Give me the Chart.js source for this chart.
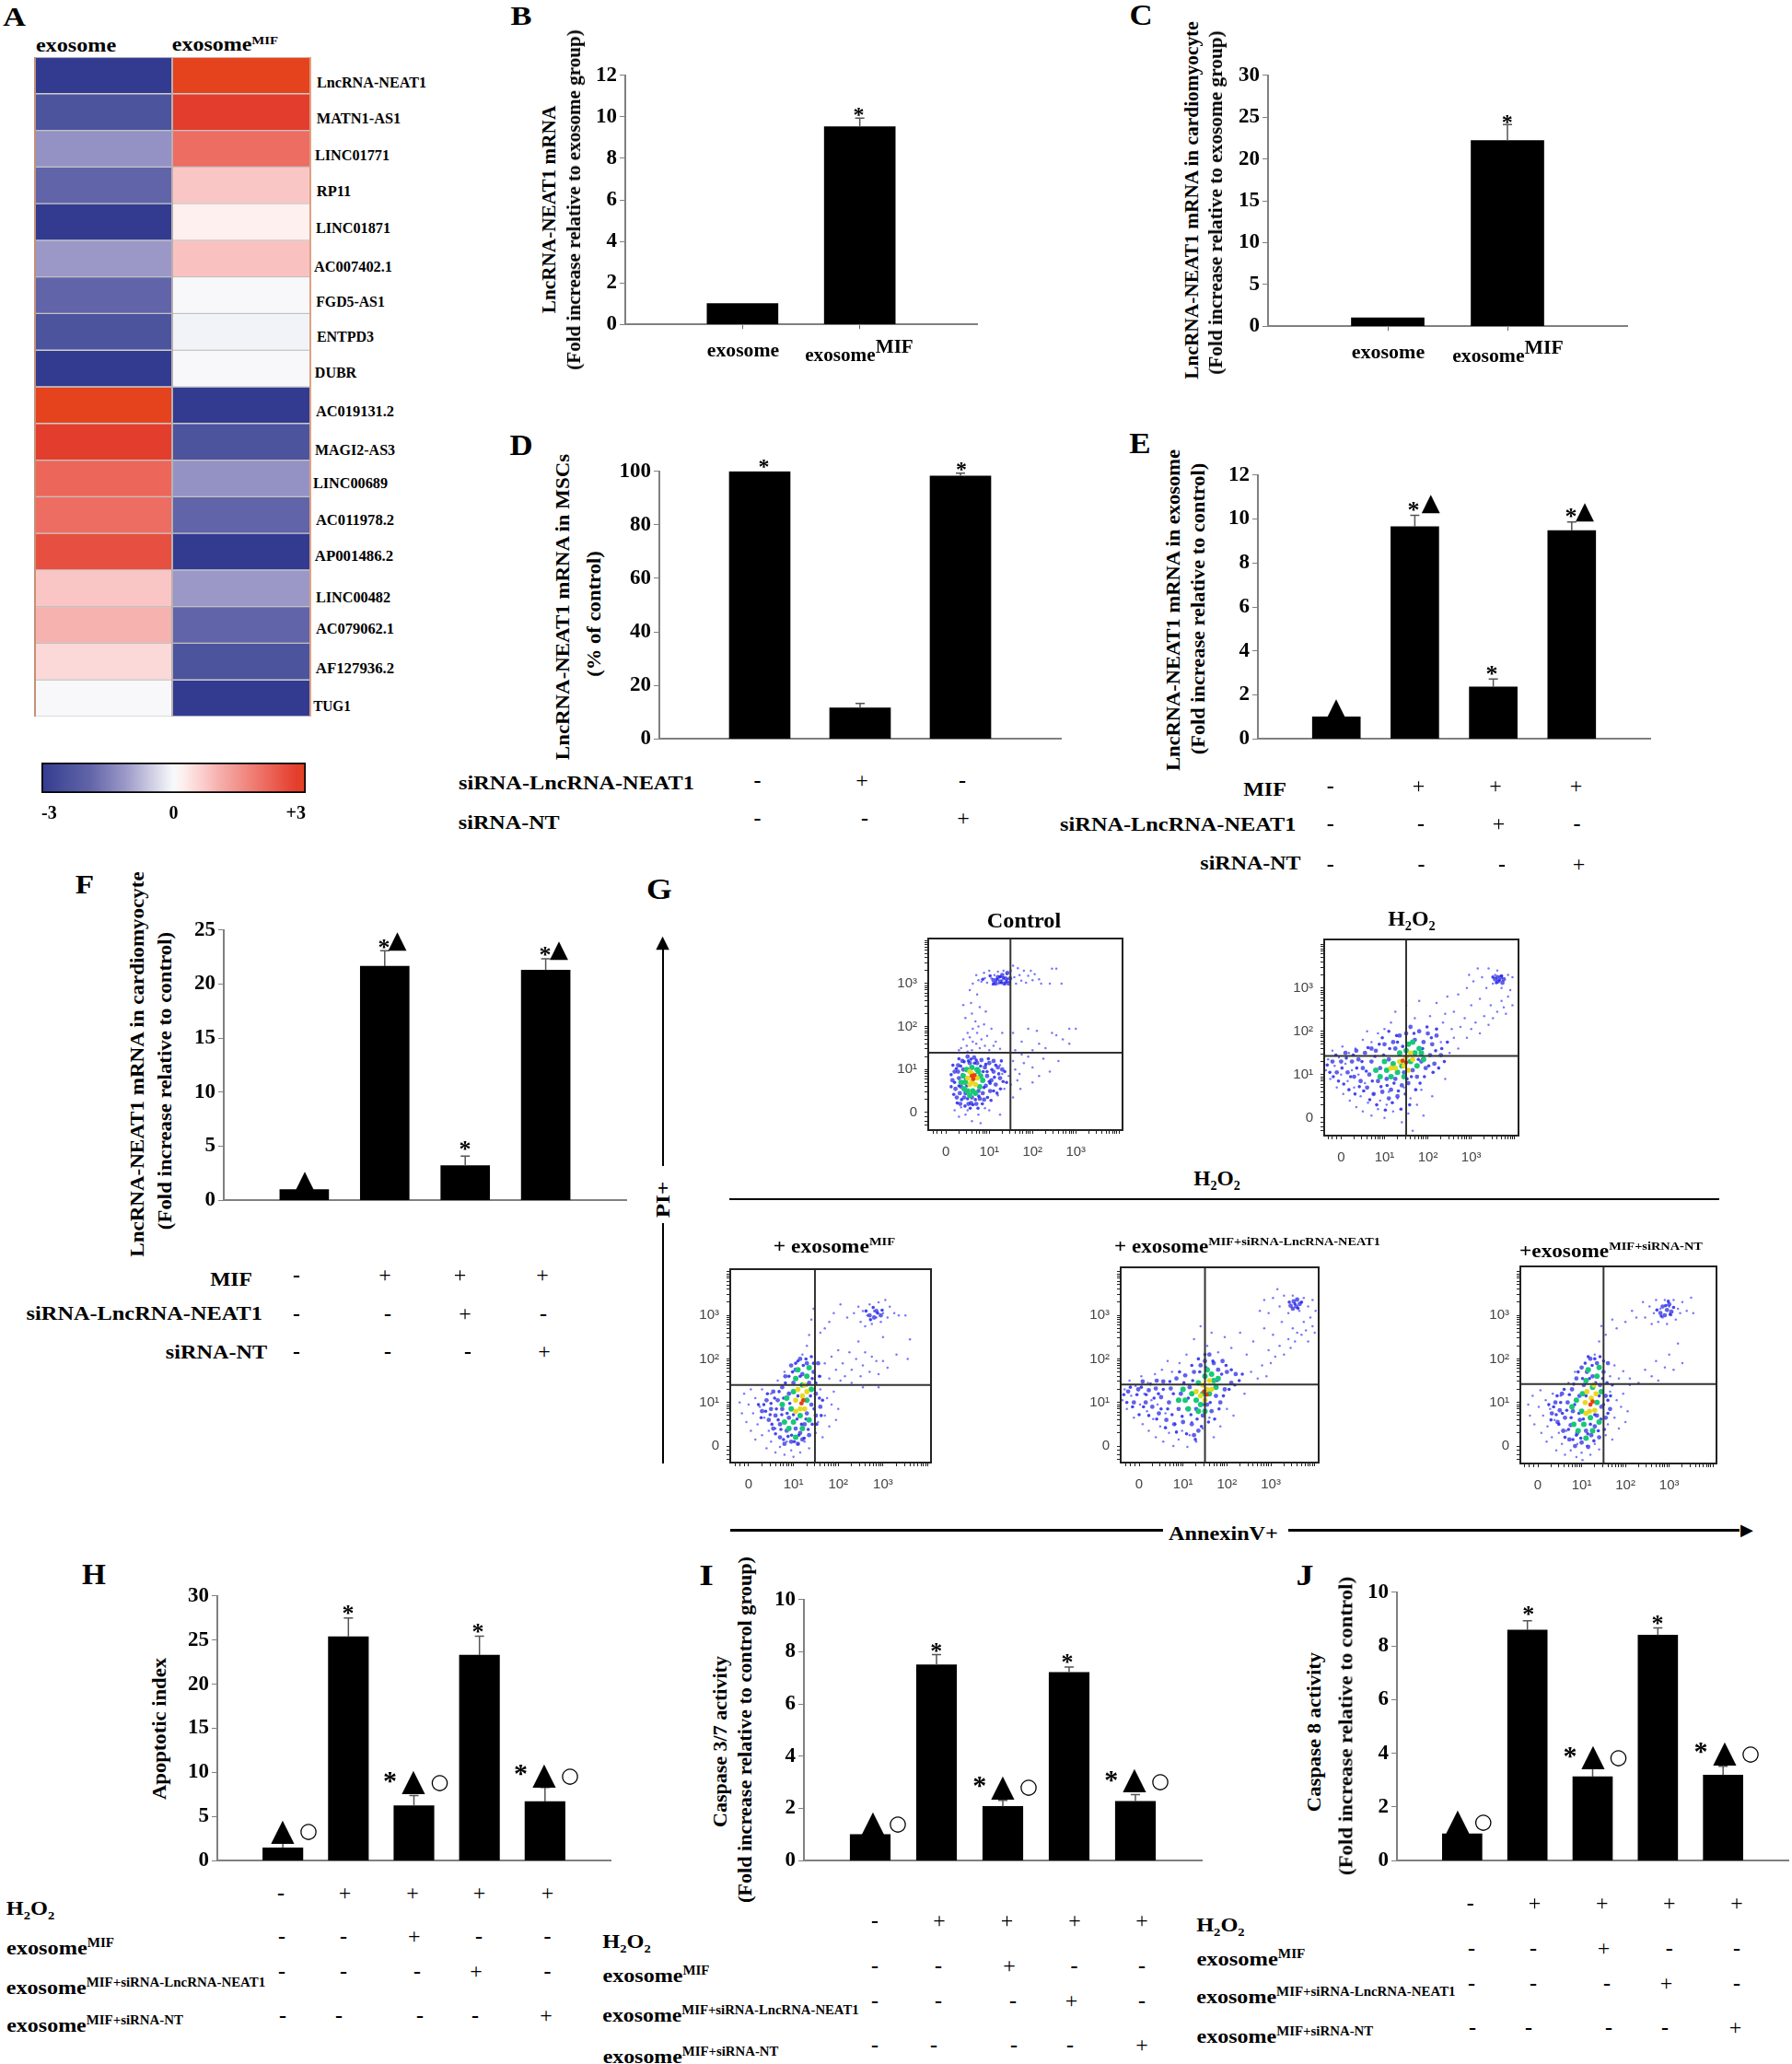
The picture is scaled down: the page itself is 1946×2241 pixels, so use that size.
<!DOCTYPE html>
<html><head><meta charset="utf-8">
<style>
html,body{margin:0;padding:0;background:#fff}
#page{position:relative;width:1946px;height:2241px;overflow:hidden;background:#fff}
canvas{position:absolute}
.t{position:absolute;left:0;top:0;white-space:nowrap;line-height:1;color:#000;font-family:"Liberation Serif",serif;font-weight:bold;transform-origin:0 0}
.d{position:absolute;background:#000}
</style>
<script src="https://cdn.jsdelivr.net/npm/chart.js@4"></script>
</head><body><div id="page"></div>
<script>
// ---------- DATA ----------
const heatGenes=['LncRNA-NEAT1','MATN1-AS1','LINC01771','RP11','LINC01871','AC007402.1','FGD5-AS1','ENTPD3','DUBR','AC019131.2','MAGI2-AS3','LINC00689','AC011978.2','AP001486.2','LINC00482','AC079062.1','AF127936.2','TUG1'];
const heatExosome=[-3,-2.4,-1.2,-1.9,-3,-1.1,-1.9,-2.4,-3,3,2.8,2.15,2.05,2.5,.75,1,.5,.02];
const heatExosomeMIF=[3,2.8,2.05,.75,.2,.8,.02,-.08,.03,-3,-2.4,-1.2,-1.9,-3,-1.1,-1.9,-2.4,-3];
const colorStops=[[-3,'#323b8f'],[-2.4,'#4c549d'],[-1.9,'#6164a8'],[-1.2,'#9492c4'],[-1.1,'#9b98c7'],[-.03,'#f6f7fa'],[.03,'#f8f8fa'],[.2,'#fdf0ee'],[.5,'#fbd9d8'],[.75,'#fac6c5'],[1,'#f6b2af'],[2.05,'#ed6d62'],[2.5,'#e75040'],[2.8,'#e33e2d'],[3,'#e4431e']];
const colorbarTicks=[-3,0,3];

const bLabels=['exosome','exosomeMIF'], bValues=[1,9.52], bErr=[null,9.94];
const cLabels=['exosome','exosomeMIF'], cValues=[1,22.2], cErr=[null,24.1];
const dLabels=['a','b','c'], dValues=[100,11.6,98.3], dErr=[null,13.2,99.3];
const eLabels=['a','b','c','d'], eValues=[1,9.65,2.36,9.47], eErr=[null,10.17,2.72,9.87];
const fLabels=['a','b','c','d'], fValues=[1,21.65,3.2,21.3], fErr=[null,23.08,4.08,22.35];
const hLabels=['a','b','c','d','e'], hValues=[1.46,25.37,6.23,23.3,6.7], hErr=[2,27.5,7.39,25.45,8.3];
const iLabels=['a','b','c','d','e'], iValues=[1,7.5,2.08,7.21,2.27], iErr=[null,7.89,2.31,7.42,2.53];
const jLabels=['a','b','c','d','e'], jValues=[1,8.59,3.13,8.4,3.19], jErr=[null,8.94,3.44,8.67,3.52];

const dRows=[['-','+','-'],['-','-','+']];
const efRows=[['-','+','+','+'],['-','-','+','-'],['-','-','-','+']];
const hijRows=[['-','+','+','+','+'],['-','-','+','-','-'],['-','-','-','+','-'],['-','-','-','-','+']];

// flow cytometry dots, in decades
const ctrlSparse=[[.62,3],[.7,3.2],[.75,3.08],[.82,3.05],[.88,3.25],[.9,3.13],[.95,3.02],[1,3.3],[1.05,3.12],[1.08,2.98],[1.12,3.2],[1.16,3.06],[1.2,3.28],[1.22,3],[1.27,3.15],[1.3,3.08],[1.33,3.3],[1.36,3],[1.4,3.22],[1.42,3.1],[1.47,3.05],[1.5,3.3],[1.55,3.42],[1.58,3.15],[1.62,3],[1.66,3.36],[1.7,3.2],[1.74,3.07],[1.8,3.3],[1.85,3.02],[1.9,3.18],[1.96,3.3],[2,3.08],[2.05,3.22],[2.15,3.1],[2.2,3],[2.4,3],[2.45,3.35],[2.55,3.35],[2.67,3],[.55,2.85],[.72,2.75],[.4,2.5],[.58,2.55],[.78,2.45],[.92,2.35],[.6,2.3],[.88,2.05],[.45,2.2],[.68,2.12],[.75,2],[.5,1.85],[.62,1.95],[.72,1.85],[.4,1.7],[.55,1.75],[.82,1.7],[.95,1.78],[1.05,1.95],[1.15,1.65],[1.3,1.85],[.35,1.5],[.48,1.55],[.6,1.45],[.7,1.6],[.78,1.5],[.9,1.55],[1,1.45],[1.1,1.55],[1.25,1.48],[.3,1.45],[.5,1.42],[.62,1.65],[1.55,1.85],[1.75,1.65],[1.9,1.95],[2.1,1.9],[2.15,1.6],[2.45,1.85],[2.55,1.8],[2.85,1.95],[3,1.95],[2.7,1.7],[2.85,1.6],[2.3,1.5],[2,1.45],[1.75,1.35],[1.6,1.45],[1.55,1.2],[1.6,1],[1.7,.9],[1.8,1.15],[1.9,1.3],[1.65,.75],[1.72,.55],[2,.7],[2.15,.85],[2,1.05],[2.25,1.25],[2.6,1.2],[2.4,.95],[1.5,.65],[1.55,.35],[1.45,.85],[1.3,.9],[1.25,1.1],[1.35,.55],[1.2,.4],[.3,-.1],[.45,-.05],[.6,-.2],[.8,-.25],[.75,-.05],[.5,.05],[.9,.1],[1,.05],[.2,.05],[.35,.12],[1.25,-.05]];
const ctrlExtra=[[.85,3.1],[1.02,3.18],[1.18,3.1],[1.28,3.02],[1.33,3.13],[1.4,3.05],[1.25,3.16],[1.1,3],[.12,.6],[.12,.88],[.18,.42],[.2,.7],[.24,1.02],[.26,.22],[.3,.62],[.34,1.08],[.36,.3],[.38,.88],[.42,1.18],[.44,.15],[.48,.62],[.52,1.2],[.5,.32],[.56,.1],[.58,1.24],[.62,.18],[.66,1.15],[.68,.3],[.7,1.22],[.74,.1],[.76,.38],[.8,1.08],[.84,.2],[.86,.95],[.88,.58],[.92,1.12],[.96,.35],[.98,1.25],[1.02,.68],[1.04,.28],[1.06,1],[1.1,.5],[1.12,.82],[1.15,1.1],[1.18,.45],[1.22,.9],[1.26,.55],[1.28,1.2],[1.32,.72],[1.36,.95],[1.4,.7],[.95,.95],[1,.72],[.3,1.25],[.16,1.1]];
const ctrlDense=[[1.15,3],[1.2,3.15],[1.25,3.05],[1.3,3.2],[1.35,3],[1.38,3.12],[1.42,3.25],[1.45,3],[1.1,3.08],[1.48,3.12],[.15,.75],[.2,.95],[.22,.55],[.25,.35],[.28,1.1],[.3,.8],[.33,.2],[.35,.6],[.38,1.2],[.4,1],[.42,.35],[.46,.75],[.5,1.3],[.52,.2],[.55,1.15],[.6,.35],[.65,1.28],[.7,.2],[.72,1.15],[.78,.32],[.82,1.22],[.85,.45],[.9,1.05],[.92,.62],[.95,.85],[1,1.15],[1.02,.5],[1.05,.75],[1.1,.95],[1.15,.65],[1.2,1.05],[1.25,.8],[.75,.5],[.32,.45],[.28,.95],[.45,.45],[.88,.3],[.58,.22],[1.1,1.2],[1.3,1]];
const ctrlMid=[[.35,.7],[.4,.85],[.42,.55],[.48,1],[.5,.5],[.55,.4],[.6,1.05],[.68,.45],[.72,1],[.78,.6],[.8,.85],[.62,.5],[.45,.7],[.85,.75],[.75,.95]];
const ctrlHot=[[.5,.8],[.55,.65],[.6,.9],[.68,.65],[.72,.8],[.6,.72],[.55,.95]];
const ctrlCore=[[.6,.85],[.63,.78],[.66,.87]];

const h2o2Sparse=[[-.35,1.1],[-.3,1.35],[-.25,.9],[-.2,1.55],[-.15,1.2],[-.1,.7],[-.05,1.4],[0,1],[.03,1.65],[.05,.55],[.1,1.25],[.15,.85],[.18,1.5],[.2,.4],[.25,1.1],[.3,.7],[.33,1.6],[.35,.25],[.4,1],[.45,.5],[.5,1.8],[.5,.15],[.55,.8],[.6,2],[.62,.35],[.7,1.75],[.7,.05],[.75,.55],[.85,.2],[.85,1.95],[.9,.4],[1,2.05],[1,0],[1.05,.3],[1.1,.6],[1.15,2.2],[1.2,.15],[1.25,2.45],[1.3,.45],[1.4,-.1],[1.45,.7],[1.5,2.6],[1.55,.1],[1.6,.45],[1.65,-.3],[1.7,2.3],[1.75,.3],[1.8,2.7],[1.85,.65],[1.9,.05],[2.05,2.35],[2.1,.5],[2.2,2.65],[2.3,1.75],[2.35,2.2],[2.4,.9],[2.45,2.8],[2.5,1.5],[2.55,2.05],[2.6,1.85],[2.7,1.6],[2.75,2.1],[2.85,2.3],[2.9,1.85],[3,2.6],[3,2.05],[3.1,2.2],[3.2,2.75],[3.2,1.95],[3.3,2.35],[3.35,3],[3.4,2.15],[3.45,2.6],[3.5,2.3],[3.55,3.3],[3.6,2.45],[3.7,2.7],[3.75,2.55],[3.8,2.4],[3.85,2.8],[3.9,2.95],[3.95,2.6],[2.9,3],[2.95,3.3],[3.05,3.15],[3.15,3.45],[3.25,3.25],[3.4,3.45],[3.5,3.1],[3.6,3.4],[3.7,3],[3.85,3.3],[3.95,3.25],[2.6,2.45],[2.7,2.85],[2.4,2.4]];
const h2o2Extra=[[3.5,3.25],[3.58,3.12],[3.65,3.18],[3.7,3.28],[-.32,1.22],[-.26,1.05],[-.18,.95],[-.12,1.45],[-.06,.85],[.02,1.15],[.06,.78],[.12,1.38],[.18,.65],[.22,.95],[.28,1.45],[.32,.55],[.36,1.15],[.42,.72],[.48,1.3],[.52,.62],[.58,1.08],[.62,1.62],[.66,.42],[.72,.85],[.78,1.42],[.82,.3],[.88,1.7],[.92,.72],[.98,1.45],[1.02,.18],[1.06,.75],[1.12,1.6],[1.18,.35],[1.22,.8],[1.28,1.9],[1.32,.62],[1.38,.2],[1.42,1.65],[1.48,.55],[1.52,.9],[1.58,.3],[1.62,.95],[1.68,1.95],[1.72,.65],[1.78,1.35],[1.82,.8],[1.88,1.6],[1.92,.95],[1.98,2.1],[2.02,1.2],[2.08,1.85],[2.12,1.05],[2.18,1.55],[2.25,1.15],[2.32,1.6],[2.38,1.3],[2.45,1.75],[1.3,1.75],[1.1,2.0],[.95,1.85],[2.2,2.05]];
const h2o2Dense=[[3.55,3.2],[3.62,3.15],[3.68,3.25],[3.72,3.12],[3.6,3.25],[3.75,3.2],[-.2,1.3],[-.1,1.05],[0,1.3],[.1,1.5],[.15,1.05],[.25,1.3],[.3,.95],[.4,1.35],[.45,.85],[.5,1.15],[.55,1.5],[.6,.7],[.65,1],[.7,1.3],[.75,.55],[.8,1.55],[.85,.85],[.9,1.15],[.95,.6],[1,1.7],[1.05,.9],[1.1,1.35],[1.15,.65],[1.2,1.75],[1.25,.9],[1.3,.5],[1.35,1.9],[1.4,.75],[1.45,1.05],[1.5,1.95],[1.55,.8],[1.6,2.1],[1.65,1.1],[1.7,1.8],[1.75,.95],[1.8,2],[1.85,1.3],[1.9,1.75],[1.95,1.15],[2,1.95],[2.05,1.45],[2.1,1.7],[2.15,1.25],[2.2,1.9],[2.3,1.45],[.35,1.55],[.7,1.6],[1.25,1.6],[1.1,.45]];
const h2o2Mid=[[.8,1.1],[.9,.95],[1,1.3],[1.05,1.1],[1.15,.95],[1.2,1.25],[1.3,1.05],[1.35,1.5],[1.4,1.2],[1.45,.95],[1.5,1.55],[1.55,1.7],[1.6,1.3],[1.65,1.75],[1.7,1.5],[1.75,1.2],[1.8,1.6],[1.85,1.5],[1.9,1.35]];
const h2o2Hot=[[1.15,1.15],[1.25,1.15],[1.35,1.3],[1.45,1.2],[1.5,1.4],[1.6,1.5],[1.65,1.35],[1.55,1.1]];
const h2o2Core=[[1.42,1.32],[1.5,1.28]];

const mifSparse=[[-.2,1],[-.15,.75],[-.1,1.2],[-.05,.55],[0,.95],[.05,1.3],[.05,.35],[.1,.75],[.15,1.1],[.15,.15],[.2,.5],[.25,.9],[.3,.25],[.3,1.3],[.35,.65],[.4,-.05],[.45,.35],[.5,1.2],[.5,.1],[.6,-.15],[.6,.4],[.65,1.5],[.7,-.02],[.8,1.7],[.8,-.2],[.85,.1],[.95,-.1],[1,-.25],[1.1,.05],[1.15,-.15],[1.25,.1],[1.35,-.05],[1.5,.3],[1.55,.55],[1.65,.2],[1.7,.7],[1.8,.45],[1.85,.95],[1.95,.6],[2,.85],[1.75,1.1],[1.6,1.3],[1.9,1.25],[2.05,1.5],[2.3,1.45],[2.55,1.35],[2.9,1.35],[1.6,1.6],[1.7,1.9],[1.8,1.55],[1.85,2.05],[1.95,1.75],[2,2.2],[2.1,1.9],[2.15,1.6],[2.25,2.15],[2.3,1.75],[2.4,2],[2.5,1.6],[2.55,1.85],[2.6,2.15],[2.7,1.7],[2.75,2.05],[2.85,1.95],[2.9,1.65],[3,1.95],[3.1,1.8],[3.3,2.1],[3.55,2],[3.6,2.45],[3,2.5],[2.45,2.4],[1.2,2.1],[1.3,2.3],[1.35,2.55],[1.4,2.9],[1.45,3.15],[1.6,2.6],[1.7,2.7],[1.8,2.85],[1.9,3.05],[2.05,3.25],[2.2,2.95],[2.35,3.05],[2.45,3.2],[2.5,2.85],[2.55,3.1],[2.6,2.75],[2.65,3],[2.7,3.25],[2.75,2.8],[2.8,3.1],[2.85,2.95],[2.9,3.3],[2.95,2.85],[3,3.05],[3.05,3.35],[3.1,2.95],[3.15,3.2],[3.25,3.05],[3.35,3],[3.5,3]];
const mifExtra=[[2.62,3.1],[2.72,2.9],[2.78,3.18],[2.88,3.05],[2.98,3.12],[.22,.95],[.28,.65],[.34,.95],[.38,.8],[.42,1.2],[.48,.72],[.5,.98],[.52,.5],[.58,1.1],[.6,.28],[.62,.85],[.66,.6],[.68,1.25],[.72,.38],[.74,.72],[.78,.15],[.78,1.1],[.82,1.45],[.86,.75],[.88,.22],[.9,1.6],[.92,.98],[.96,.25],[.98,1.7],[1,.72],[1.02,.1],[1.05,1.9],[1.08,.62],[1.1,1.15],[1.12,.25],[1.15,1.6],[1.18,.5],[1.22,1.85],[1.24,.18],[1.28,.62],[1.3,1.4],[1.33,.38],[1.38,1.15],[1.42,.5],[1.42,1.55],[1.46,.85],[1.5,1.45],[1.52,.5],[1.58,1.1],[1.58,1.6],[1.62,.7],[1.65,1.05],[1.28,2.0],[1.4,2.05],[1.45,1.9],[1.1,1.95]];
const mifDense=[[2.7,3],[2.8,2.95],[2.85,3.1],[2.95,3],[.3,.8],[.4,1.05],[.45,.6],[.5,.85],[.55,1.25],[.55,.4],[.6,.7],[.65,1.05],[.7,.2],[.7,.5],[.75,1.35],[.75,.85],[.8,.05],[.82,1.6],[.85,.35],[.9,1.2],[.9,.65],[.95,1.85],[.95,.1],[1,1.45],[1.05,.4],[1.05,1.75],[1.1,.05],[1.15,2],[1.15,.3],[1.2,1.65],[1.25,.5],[1.3,1.9],[1.3,.75],[1.35,.25],[1.35,1.45],[1.4,.95],[1.45,1.7],[1.5,.7],[1.5,1.2],[1.55,1.9],[1.6,.9],[1.2,.15]];
const mifMid=[[.75,.95],[.8,.55],[.85,1.1],[.9,.4],[.95,.85],[1,1.25],[1,.55],[1.05,1.55],[1.05,.2],[1.1,1.75],[1.15,.7],[1.2,1.4],[1.2,.4],[1.3,1.6],[1.3,1.05],[1.35,1.8],[1.35,.6],[1.4,1.3]];
const mifHot=[[1.05,1.05],[1.1,1.3],[1.15,.85],[1.2,1.15],[1.25,1.4],[1.25,.85],[1.3,1.25],[1.05,.8]];
const mifCore=[[1.18,.98],[1.22,1.05]];

const neatSparse=[[-.38,1.05],[-.33,1.3],[-.28,.85],[-.22,1.5],[-.18,1.15],[-.12,.65],[-.08,1.38],[.02,.95],[.05,1.6],[.08,.5],[.12,1.2],[.18,.8],[.2,1.45],[.22,.35],[.28,1.05],[.32,.62],[.36,1.65],[.38,.2],[.42,.95],[.48,.45],[.52,1.75],[.55,.1],[.6,.75],[.65,1.95],[.68,.3],[.75,1.7],[.78,0],[.82,.5],[.9,.15],[.92,1.9],[.98,.35],[1.08,2.1],[1.1,-.02],[1.15,.25],[1.2,.55],[1.25,2.45],[1.3,.1],[1.4,2.75],[1.45,.4],[1.55,2.3],[1.6,.65],[1.65,2.6],[1.7,.2],[1.8,2.15],[1.85,.45],[1.95,2.5],[2,.85],[2.1,2.25],[2.15,.7],[2.3,2.6],[2.4,1.2],[2.45,2.1],[2.55,1.7],[2.6,2.4],[2.7,1.55],[2.8,1.85],[2.85,2.7],[2.9,1.6],[2.95,2.2],[3,1.9],[3.05,2.55],[3.1,2.05],[3.2,2.3],[3.25,2.85],[3.3,2.1],[3.4,2.45],[3.45,2.25],[3.5,2.7],[3.55,2.4],[3.6,2.6],[3.7,2.55],[3.75,2.85],[3.8,2.65],[3.85,2.4],[3.9,2.95],[3.95,2.75],[4,2.6],[2.75,3.1],[2.85,3.35],[2.95,3.05],[3.05,3.4],[3.15,3.6],[3.2,3.2],[3.3,3.45],[3.4,3.05],[3.5,3.45],[3.65,3.1],[3.75,3.4],[3.85,3.2],[3.95,3.35],[4.02,3.1]];
const neatExtra=[[3.42,3.3],[3.55,3.26],[3.62,3.16],[3.7,3.3],[-.35,1.18],[-.28,1.0],[-.2,1.35],[-.15,.9],[-.05,1.18],[0,.72],[.05,1.35],[.1,.9],[.16,1.18],[.22,.7],[.26,1.42],[.34,1.1],[.4,.62],[.44,1.2],[.5,.85],[.55,1.3],[.6,.42],[.65,.85],[.7,1.48],[.75,.72],[.78,1.2],[.85,.32],[.88,1.05],[.92,1.7],[.98,.68],[1.02,1.45],[1.08,.28],[1.12,1.1],[1.18,.72],[1.22,1.5],[1.28,.15],[1.32,.62],[1.38,1.7],[1.42,.45],[1.48,.95],[1.52,1.8],[1.58,.55],[1.62,1.0],[1.68,1.95],[1.72,.62],[1.78,1.5],[1.82,.85],[1.88,1.65],[1.92,1.15],[1.98,1.85],[2.05,1.3],[2.1,1.75],[2.18,1.4],[2.28,1.5],[1.2,1.85],[1.35,2.0],[1.5,2.1],[2.35,1.65]];
const neatDense=[[3.45,3.22],[3.52,3.32],[3.58,3.2],[3.6,3.36],[3.66,3.26],[3.5,3.15],[-.25,1.25],[-.12,1],[-.02,1.3],[.08,1.48],[.15,1],[.22,1.28],[.3,.9],[.38,1.32],[.45,.75],[.5,1.12],[.55,1.48],[.62,.6],[.68,1],[.72,1.32],[.8,.5],[.85,1.55],[.9,.85],[.95,1.2],[1,.55],[1.05,1.62],[1.1,.85],[1.15,1.35],[1.2,.5],[1.25,1.7],[1.3,.85],[1.35,.35],[1.4,1.85],[1.45,.7],[1.5,1.95],[1.55,.95],[1.6,2.1],[1.65,.8],[1.7,1.9],[1.75,1.15],[1.8,1.75],[1.85,1],[1.9,1.95],[1.95,1.3],[2,1.7],[2.1,1.45],[2.2,1.65],[.4,1.5],[1.25,.25]];
const neatMid=[[.9,1.05],[1,1.3],[1.05,1.05],[1.12,.85],[1.2,1.2],[1.3,1.05],[1.35,1.45],[1.4,.95],[1.45,1.2],[1.5,1.6],[1.55,1.75],[1.6,1.2],[1.65,1.65],[1.7,1.5],[1.75,1.35],[1.8,1.55],[1.35,.8],[1.5,.8]];
const neatHot=[[1.3,1.25],[1.4,1.15],[1.45,1.4],[1.55,1.3],[1.6,1.5],[1.65,1.3],[1.5,1.05]];
const neatCore=[[1.48,1.25],[1.54,1.18]];

const ntSparse=[[-.22,.95],[-.18,.7],[-.12,1.15],[-.08,.5],[.02,.9],[.06,1.28],[.08,.3],[.12,.7],[.18,1.05],[.2,.1],[.22,.45],[.28,.85],[.32,.2],[.34,1.2],[.38,.6],[.42,-.1],[.48,.3],[.52,1.15],[.55,.05],[.62,-.2],[.65,.35],[.7,1.45],[.75,-.1],[.85,1.7],[.88,-.25],[.9,.05],[1,-.15],[1.02,-.32],[1.12,0],[1.2,-.2],[1.3,.05],[1.4,-.08],[1.55,.25],[1.6,.5],[1.7,.15],[1.75,.65],[1.85,.4],[1.9,.9],[2,.55],[2.05,.8],[1.8,1.05],[1.65,1.25],[1.95,1.2],[2.1,1.4],[1.65,1.6],[1.75,1.85],[1.85,1.55],[1.95,1.72],[2.1,1.55],[2.3,1.45],[2.45,1.75],[2.6,1.6],[2.7,1.95],[2.75,1.5],[2.9,1.8],[3,2.1],[3.1,1.75],[3.2,2.35],[3.3,1.9],[1.3,2.1],[1.4,2.4],[1.45,2.75],[1.55,2.55],[1.7,2.9],[1.8,2.7],[2,2.85],[2.15,3.1],[2.25,2.95],[2.4,3.3],[2.45,2.95],[2.55,3.2],[2.6,2.8],[2.65,3.05],[2.7,3.35],[2.75,2.85],[2.8,3.15],[2.85,2.95],[2.9,3.35],[2.95,2.8],[3,3.2],[3.05,3],[3.1,3.35],[3.15,2.9],[3.2,3.15],[3.25,3.05],[3.3,3.3],[3.4,3.1],[3.5,3.4],[3.55,3.05]];
const ntExtra=[[2.72,3.12],[2.82,2.98],[2.92,3.22],[3.02,3.02],[3.1,3.18],[2.98,3.32],[.25,.95],[.3,.6],[.36,.9],[.42,.72],[.44,1.15],[.48,.5],[.52,1],[.56,.75],[.6,1.3],[.62,.2],[.66,.82],[.7,.38],[.72,1.18],[.76,.65],[.8,.15],[.82,1.42],[.84,.95],[.88,.25],[.92,1.7],[.94,.75],[.98,.18],[1.02,1.55],[1.04,.62],[1.08,1.9],[1.1,1.15],[1.14,.28],[1.18,1.55],[1.2,.5],[1.24,1.85],[1.28,.12],[1.3,.72],[1.32,1.45],[1.38,.35],[1.4,1.15],[1.44,.62],[1.48,1.55],[1.5,.95],[1.52,.38],[1.58,1.45],[1.6,.75],[1.6,1.05],[1.66,1.15],[1.3,2.0],[1.42,2.05],[1.5,1.95],[1.15,2.05],[1.7,1.4]];
const ntDense=[[2.8,3.05],[2.85,3.2],[2.9,3],[2.95,3.12],[3,3.25],[3.05,3.08],[.32,.75],[.4,1],[.45,.55],[.5,.82],[.55,1.2],[.58,.35],[.62,.65],[.68,1],[.72,.15],[.75,.48],[.78,1.3],[.8,.8],[.85,0],[.88,1.55],[.9,.3],[.95,1.15],[.96,.6],[1,1.8],[1,.08],[1.05,1.4],[1.1,.35],[1.12,1.7],[1.15,-.02],[1.2,2],[1.22,.25],[1.25,1.6],[1.3,.45],[1.35,1.9],[1.35,.7],[1.4,.2],[1.42,1.4],[1.45,.9],[1.5,1.7],[1.55,.65],[1.55,1.15],[1.6,1.9],[1.65,.85]];
const ntMid=[[.78,.9],[.82,.5],[.88,1.05],[.92,.35],[1,.8],[1.02,1.2],[1.05,.5],[1.1,1.5],[1.1,.18],[1.15,1.75],[1.2,.65],[1.25,1.35],[1.25,.35],[1.35,1.6],[1.35,1],[1.4,1.8],[1.4,.55],[1.45,1.25]];
const ntHot=[[1.08,1],[1.12,1.25],[1.18,.8],[1.22,1.1],[1.28,1.4],[1.3,.82],[1.33,1.2],[1.1,.75]];
const ntCore=[[1.2,.95],[1.25,1.02]];

const gates={ctrl:[1.49,1.39],h2o2:[1.5,1.43],mif:[1.48,1.4],neat:[1.5,1.41],nt:[1.5,1.42]};

// ---------- HELPERS ----------
const page=document.getElementById('page');
const SERIF='"Liberation Serif",serif';
const sup=(s,e=.62,top=-.6)=>`<span style="font-size:${e}em;position:relative;top:${top}em">${s}</span>`;
const sub=s=>`<span style="font-size:.6em;position:relative;top:.35em">${s}</span>`;
const H2O2=`H${sub('2')}O${sub('2')}`;
function T(html,cx,cy,o={}){
  const e=document.createElement('div');e.className='t';e.innerHTML=html;
  e.style.fontSize=(o.s||22)+'px';
  if(o.font)e.style.fontFamily=o.font;
  if(o.weight)e.style.fontWeight=o.weight;
  if(o.color)e.style.color=o.color;
  page.appendChild(e);
  let sx=1;if(o.w)sx=o.w/e.offsetWidth;
  e.style.transform=`translate(${cx}px,${cy}px) rotate(${o.rot||0}deg) scale(${sx},1) translate(-50%,-50%)`;
  return e;
}
const L=(html,x0,x1,cy,s=22)=>T(html,(x0+x1)/2,cy,{s,w:x1-x0});
const V=(html,x,y0,y1,s=20)=>T(html,x,(y0+y1)/2,{s,w:y1-y0,rot:-90});
const tri=(x,y,s=26)=>T('▲',x,y,{s,font:'"DejaVu Sans"',weight:'normal'});
const circ=(x,y,s=23)=>T('○',x,y,{s,font:'"DejaVu Sans"',weight:'bold'});
const star=(x,y,s=30)=>T('*',x,y+s*.15,{s});
function marks(xs,y,row){row.forEach((m,i)=>T(m,xs[i],y,{s:24,weight:m==='+'?'normal':'bold'}));}
function rect(x,y,w,h,c='#000'){const d=document.createElement('div');d.className='d';d.style.cssText+=`left:${x}px;top:${y}px;width:${w}px;height:${h}px;background:${c}`;page.appendChild(d);return d;}
function cv(l,t,w,h){const c=document.createElement('canvas');c.width=w;c.height=h;c.style.left=l+'px';c.style.top=t+'px';c.style.width=w+'px';c.style.height=h+'px';page.appendChild(c);return c;}
// make the chart's plot area land exactly on the given page rectangle
function place(ch,l,t,r,b){
  let a=ch.chartArea;
  const w=ch.width+((r-l)-(a.right-a.left)),h=ch.height+((b-t)-(a.bottom-a.top));
  ch.resize(Math.round(w),Math.round(h));
  a=ch.chartArea;
  ch.canvas.style.left=(l-a.left)+'px';ch.canvas.style.top=(t-a.top)+'px';
}
function hex(c){return [1,3,5].map(i=>parseInt(c.slice(i,i+2),16));}
function heatColor(v){
  for(let i=1;i<colorStops.length;i++){const[a,ca]=colorStops[i-1],[b,cb]=colorStops[i];
    if(v<=b){const f=(v-a)/(b-a),A=hex(ca),B=hex(cb);return `rgb(${A.map((q,k)=>Math.round(q+(B[k]-q)*f)).join(',')})`;}}
  return colorStops[colorStops.length-1][1];
}
const errPlugin={id:'errs',afterDatasetsDraw(ch,_,o){
  const ctx=ch.ctx,y=ch.scales.y,meta=ch.getDatasetMeta(0);
  ctx.save();ctx.strokeStyle='#555';ctx.lineWidth=1.5;
  (o.tops||[]).forEach((v,i)=>{if(v==null)return;const el=meta.data[i+1],py=y.getPixelForValue(v);
    ctx.beginPath();ctx.moveTo(el.x,el.y);ctx.lineTo(el.x,py);ctx.moveTo(el.x-5,py);ctx.lineTo(el.x+5,py);ctx.stroke();});
  ctx.restore();}};
function barChart(o){
  const LEFT=50,TOP=16,RIGHT=4,BOT=14;
  const w=Math.round(o.right-o.axis+LEFT+RIGHT),h=Math.round(o.base-o.top+TOP+BOT);
  const ch=new Chart(cv(o.axis-LEFT,o.top-TOP,w,h),{type:'bar',plugins:[errPlugin],
    data:{labels:['',...o.labels,''],datasets:[{data:[null,...o.values,null],backgroundColor:'#000',barThickness:o.bar}]},
    options:{responsive:false,maintainAspectRatio:false,animation:false,devicePixelRatio:1,layout:{padding:{top:TOP,right:RIGHT}},
      plugins:{legend:{display:false},tooltip:{enabled:false},errs:{tops:o.err}},
      scales:{
        x:{offset:false,grid:{offset:false,drawOnChartArea:false,drawTicks:!!o.xticks,tickLength:5,tickColor:(c)=>(c.index>0&&c.index<=o.labels.length)?'#666':'transparent'},
           border:{color:'#808080',width:2},ticks:{display:false},afterFit(s){s.height=BOT}},
        y:{min:0,max:o.max,ticks:{stepSize:o.step,color:'#000',padding:3,font:{family:SERIF,weight:'bold',size:o.tick||23}},
           grid:{drawOnChartArea:false,tickLength:6,color:'#808080'},border:{color:'#808080',width:2},afterFit(s){s.width=LEFT}}
      }}});
  place(ch,o.axis,o.top,o.right,o.base);
}
const boxPlugin={id:'box',afterDatasetsDraw(ch){const a=ch.chartArea,c=ch.ctx;c.save();c.strokeStyle='#222';c.lineWidth=2;c.strokeRect(a.left,a.top,a.right-a.left,a.bottom-a.top);c.restore();}};
const minorDec=[0,.3,.48,.6,.7,.78,.85,.9,.95];
const decadeLabels={0:'0',1:'10¹',2:'10²',3:'10³'};
function flow(o){
  const LEFT=50,BOT=40,PAD=14;
  const[l,t,r,b]=o.box;
  const mk=(data,color,rad)=>({data:data.map(p=>({x:p[0],y:p[1]})),backgroundColor:color,pointRadius:rad,pointBorderWidth:0,showLine:false});
  const ticks=(min,max)=>{const a=[];for(let d=0;d<5;d++)minorDec.forEach(m=>{const v=d+m;if(v<=max)a.push({value:v});});[-.1,-.2,-.3].forEach(v=>a.push({value:v}));return a.filter(k=>k.value>=min);};
  const axis=(min,max,isX)=>({type:'linear',min,max,
    afterBuildTicks(s){s.ticks=ticks(min,max)},
    ticks:{autoSkip:false,maxRotation:0,minRotation:0,padding:isX?11:8,color:'#444',font:{family:'"Liberation Sans Narrow","Liberation Sans",sans-serif',size:15},callback:v=>decadeLabels[v]??''},
    grid:{drawOnChartArea:false,tickLength:4,color:'#222'},border:{display:false},
    afterFit(s){if(isX)s.height=BOT;else s.width=LEFT}});
  const c=cv(l-LEFT,t-PAD,Math.round(r-l+LEFT+PAD),Math.round(b-t+PAD+BOT));
  c.style.filter='blur(.45px)';
  const ch=new Chart(c,{type:'scatter',plugins:[boxPlugin],
    data:{datasets:[
      {data:[{x:o.gate[0],y:o.yr[0]},{x:o.gate[0],y:o.yr[1]}],showLine:true,borderColor:'#333',borderWidth:2,pointRadius:0},
      {data:[{x:o.xr[0],y:o.gate[1]},{x:o.xr[1],y:o.gate[1]}],showLine:true,borderColor:'#333',borderWidth:2,pointRadius:0},
      mk(o.core,'#e84010',2.4),mk(o.hot,'#e8d820',2.8),mk(o.mid,'#18c878',3),
      mk(o.extra,'rgba(35,35,235,.85)',1.8),mk(o.dense,'rgba(30,30,225,.7)',2.4),mk(o.sparse,'rgba(85,85,250,.8)',1.25)]},
    options:{responsive:false,maintainAspectRatio:false,animation:false,devicePixelRatio:1,layout:{padding:{top:PAD,right:PAD}},
      plugins:{legend:{display:false},tooltip:{enabled:false}},scales:{x:axis(o.xr[0],o.xr[1],true),y:axis(o.yr[0],o.yr[1],false)}}});
  place(ch,l,t,r,b);
}

// ---------- PANEL A ----------
new Chart(cv(37,62,300,716),{type:'bar',
  data:{labels:heatGenes,datasets:[heatExosome,heatExosomeMIF].map((vals,k)=>({label:k?'exosomeMIF':'exosome',data:vals.map(()=>1),
    backgroundColor:vals.map(heatColor),borderColor:'rgba(110,110,110,.3)',borderWidth:{top:1,bottom:1,left:0,right:0},borderSkipped:false,barPercentage:1,categoryPercentage:1}))},
  options:{indexAxis:'y',responsive:false,maintainAspectRatio:false,animation:false,devicePixelRatio:1,plugins:{legend:{display:false},tooltip:{enabled:false}},
    scales:{x:{stacked:true,min:0,max:2,display:false},y:{stacked:true,display:false}}}});
rect(37,62,2,716,'#c49078');rect(336,62,1.5,716,'#e0a080');rect(186,62,1.5,716,'#b9b0b0');
const geneX=[344,344,342,344,343,341,343,344,342,343,342,340,343,342,343,343,343,340];
const geneY=[89.5,129,169,208,248,290,328,366,405,447,489,525,565,604,649,683,726,767];
const geneW=[119,91,81,37,81,85,75,62,45,85,87,81,85,85,81,85,85,41];
heatGenes.forEach((g,i)=>L(g,geneX[i],geneX[i]+geneW[i],geneY[i],16));
L('exosome',39,126,49,20);L('exosome'+sup('MIF'),187,302,48,20);
L('A',3,28,18,30);
place(new Chart(cv(40,820,300,80),{type:'bar',
  data:{labels:['scale'],datasets:[{data:[[colorbarTicks[0],colorbarTicks[2]]],borderColor:'#000',borderWidth:2,borderSkipped:false,barPercentage:1,categoryPercentage:1,
    backgroundColor(c){const a=c.chart.chartArea;if(!a)return '#000';const g=c.chart.ctx.createLinearGradient(a.left,0,a.right,0);
      colorStops.forEach(([v,col])=>g.addColorStop((v+3)/6,col));return g;}}]},
  options:{indexAxis:'y',responsive:false,maintainAspectRatio:false,animation:false,devicePixelRatio:1,layout:{padding:{top:4,left:4,right:4}},plugins:{legend:{display:false},tooltip:{enabled:false}},
    scales:{y:{display:false},x:{min:-3,max:3,afterBuildTicks(s){s.ticks=colorbarTicks.map(v=>({value:v}))},afterFit(s){s.height=40},
      grid:{display:false},border:{display:false},ticks:{align:'inner',padding:3,color:'#000',autoSkip:false,maxRotation:0,font:{family:SERIF,weight:'bold',size:20},callback:v=>v>0?'+'+v:String(v)}}}}}),45,828,332,861);

// ---------- PANEL B ----------
barChart({axis:678.5,right:1060,top:82,base:352,max:12,step:2,labels:bLabels,values:bValues,err:bErr,bar:77,xticks:true});
T('B',566,17,{s:30,w:23});star(932.5,120,24);
V('LncRNA-NEAT1 mRNA',596,115,340);V('(Fold increase relative to exosome group)',623,32,402);
L('exosome',768,846,380);L('exosome'+sup('MIF',1,-.42),874,992,385,21);
// ---------- PANEL C ----------
barChart({axis:1376.7,right:1767,top:81.7,base:354,max:30,step:5,labels:cLabels,values:cValues,err:cErr,bar:79,xticks:true});
T('C',1239,16,{s:32,w:25});star(1636.7,128,24);
V('LncRNA-NEAT1 mRNA in cardiomyocyte',1294,23,412);V('(Fold increase relative to exosome group)',1320,33,407);
L('exosome',1468,1547,382);L('exosome'+sup('MIF',1,-.42),1577,1698,386,21);
// ---------- PANEL D ----------
barChart({axis:716,right:1152,top:511.7,base:802,max:100,step:20,labels:dLabels,values:dValues,err:dErr,bar:66});
T('D',566,483,{s:32,w:25});star(829.5,502,24);star(1044,505,24);
V('LncRNA-NEAT1 mRNA in MSCs',611,493,825);V('(% of control)',644.5,598,735);
L('siRNA-LncRNA-NEAT1',498,754,850);L('siRNA-NT',498,607.5,893);
marks([822.5,936,1045],847,dRows[0]);marks([822.5,939,1046],888,dRows[1]);
// ---------- PANEL E ----------
barChart({axis:1366,right:1792,top:515.7,base:802,max:12,step:2,labels:eLabels,values:eValues,err:eErr,bar:52});
T('E',1238,481,{s:32,w:23});tri(1451,767);star(1535,550,26);tri(1553.7,545);star(1620,727.7,26);star(1706,557,26);tri(1721,554);
V('LncRNA-NEAT1 mRNA in exosome',1273.7,488,837);V('(Fold increase relative to control)',1301.4,503,819);
L('MIF',1350,1397,857);L('siRNA-LncRNA-NEAT1',1151,1407.5,895);L('siRNA-NT',1303.5,1412.4,936.7);
marks([1444.7,1540.6,1624,1711.6],852.7,efRows[0]);marks([1444.7,1543,1627.6,1712.5],894,efRows[1]);marks([1444.7,1543.5,1631,1714.5],937.7,efRows[2]);
// ---------- PANEL F ----------
barChart({axis:243,right:680,top:1010,base:1303,max:25,step:5,labels:fLabels,values:fValues,err:fErr,bar:53});
T('F',92,960,{s:30,w:20});tri(331,1280);star(417,1025,26);tri(431.6,1020);star(505,1244,26);star(592,1033,26);tri(607,1030);
V('LncRNA-NEAT1 mRNA in cardiomyocyte',149,946,1365);V('(Fold increase relative to control)',179,1012,1335);
L('MIF',228,274,1389);L('siRNA-LncRNA-NEAT1',28.5,285,1426);L('siRNA-NT',180,290,1467.5);
marks([322,418,499.5,589],1383.6,efRows[0]);marks([322,421,505,590],1426,efRows[1]);marks([322,421,508,591],1467,efRows[2]);
// ---------- PANEL G ----------
T('G',716,965,{s:32,w:28});
flow({box:[1008,1019,1219,1227],xr:[-.41,4.08],yr:[-.41,4.05],gate:gates.ctrl,sparse:ctrlSparse,extra:ctrlExtra,dense:ctrlDense,mid:ctrlMid,hot:ctrlHot,core:ctrlCore});
flow({box:[1438,1020,1649,1233],xr:[-.39,4.09],yr:[-.41,4.12],gate:gates.h2o2,sparse:h2o2Sparse,extra:h2o2Extra,dense:h2o2Dense,mid:h2o2Mid,hot:h2o2Hot,core:h2o2Core});
flow({box:[793,1378,1011,1588],xr:[-.41,4.07],yr:[-.38,4.06],gate:gates.mif,sparse:mifSparse,extra:mifExtra,dense:mifDense,mid:mifMid,hot:mifHot,core:mifCore});
flow({box:[1217,1376,1431.5,1588],xr:[-.42,4.09],yr:[-.38,4.1],gate:gates.neat,sparse:neatSparse,extra:neatExtra,dense:neatDense,mid:neatMid,hot:neatHot,core:neatCore});
flow({box:[1651,1375,1864,1589],xr:[-.4,4.08],yr:[-.4,4.12],gate:gates.nt,sparse:ntSparse,extra:ntExtra,dense:ntDense,mid:ntMid,hot:ntHot,core:ntCore});
L('Control',1072,1152,999,23);L(H2O2,1507,1559,997,23);L(H2O2,1296,1347,1279,23);
rect(792,1301,1075,2);
L('+ exosome'+sup('MIF'),840,972,1353,21);
L('+ exosome'+sup('MIF+siRNA-LncRNA-NEAT1'),1210,1499,1353,21);
L('+exosome'+sup('MIF+siRNA-NT'),1650,1849,1358,21);
rect(718.5,1029,2,237);rect(718.5,1328,2,261);
T('▲',719.5,1022,{s:19,font:'"DejaVu Sans"',weight:'normal'});
V('PI+',720,1283,1322,20);
rect(793,1659.5,470,3);rect(1399,1659.5,490,3);
T('▶',1897,1660.5,{s:18,font:'"DejaVu Sans"',weight:'normal'});
L('AnnexinV+',1269,1388,1665,22);
// ---------- PANEL H ----------
barChart({axis:236,right:662.5,top:1733,base:2020.6,max:30,step:5,labels:hLabels,values:hValues,err:hErr,bar:43.5});
T('H',102,1708.6,{s:32,w:26});
tri(307,1986,33);circ(335,1987);star(378,1748,26);star(423.6,1928);tri(449,1932,33);circ(477.6,1934);star(519,1768,26);star(565.5,1920);tri(591,1925,33);circ(619,1927);
V('Apoptotic index',172.7,1800,1954);
const tblLabel=(x0,ws,ys)=>{[H2O2,'exosome'+sup('MIF'),'exosome'+sup('MIF+siRNA-LncRNA-NEAT1'),'exosome'+sup('MIF+siRNA-NT')].forEach((h,i)=>L(h,x0,x0+ws[i],ys[i],22));};
tblLabel(7,[52,117,281,192],[2072,2115,2157.6,2199]);
marks([305,374.5,448,520.6,594.5],2054.6,hijRows[0]);marks([306,373,449.7,520,594.5],2102,hijRows[1]);marks([306,373,453,517,594.5],2140,hijRows[2]);marks([307,368,456,516,593],2188,hijRows[3]);
// ---------- PANEL I ----------
barChart({axis:872.7,right:1304.7,top:1737,base:2020.6,max:10,step:2,labels:iLabels,values:iValues,err:iErr,bar:43.5});
T('I',767,1710,{s:32,w:15});
tri(948,1977,33);circ(975,1979);star(1016.7,1789,26);star(1063.7,1933);tri(1089,1938,33);circ(1117,1939);star(1159,1800.6,26);star(1206.7,1927);tri(1232,1930,33);circ(1260,1933);
V('Caspase 3/7 activity',782,1798,1984);V('(Fold increase relative to control group)',809,1690,2066);
tblLabel(654.5,[52,116,278,191],[2107.6,2145,2188,2233]);
marks([950,1020,1093.6,1167,1240],2085,hijRows[0]);marks([950,1019,1096,1166.6,1240],2133.7,hijRows[1]);marks([950,1019,1100,1163.5,1240],2172,hijRows[2]);marks([950,1014,1101,1162,1240],2220,hijRows[3]);
// ---------- PANEL J ----------
barChart({axis:1517,right:1942,top:1729,base:2020.6,max:10,step:2,labels:jLabels,values:jValues,err:jErr,bar:43});
T('J',1417,1710,{s:32,w:19});
tri(1583,1975,33);circ(1610.7,1977.7);star(1659.7,1749,26);star(1705,1901);tri(1730,1905,33);circ(1757.5,1907);star(1800,1759,26);star(1847,1896.5);tri(1873,1901,33);circ(1901,1903.6);
V('Caspase 8 activity',1426.5,1794,1967);V('(Fold increase relative to control)',1461.4,1712,2036);
tblLabel(1299.4,[52,118,281,192],[2090,2127,2168,2211]);
marks([1596.8,1666.6,1739.7,1812.8,1886],2066.4,hijRows[0]);marks([1598,1665,1741.6,1812.8,1886],2114.7,hijRows[1]);marks([1598,1665,1745,1809.6,1886],2153,hijRows[2]);marks([1599,1660,1747,1808,1884.6],2200.6,hijRows[3]);
</script></body></html>
